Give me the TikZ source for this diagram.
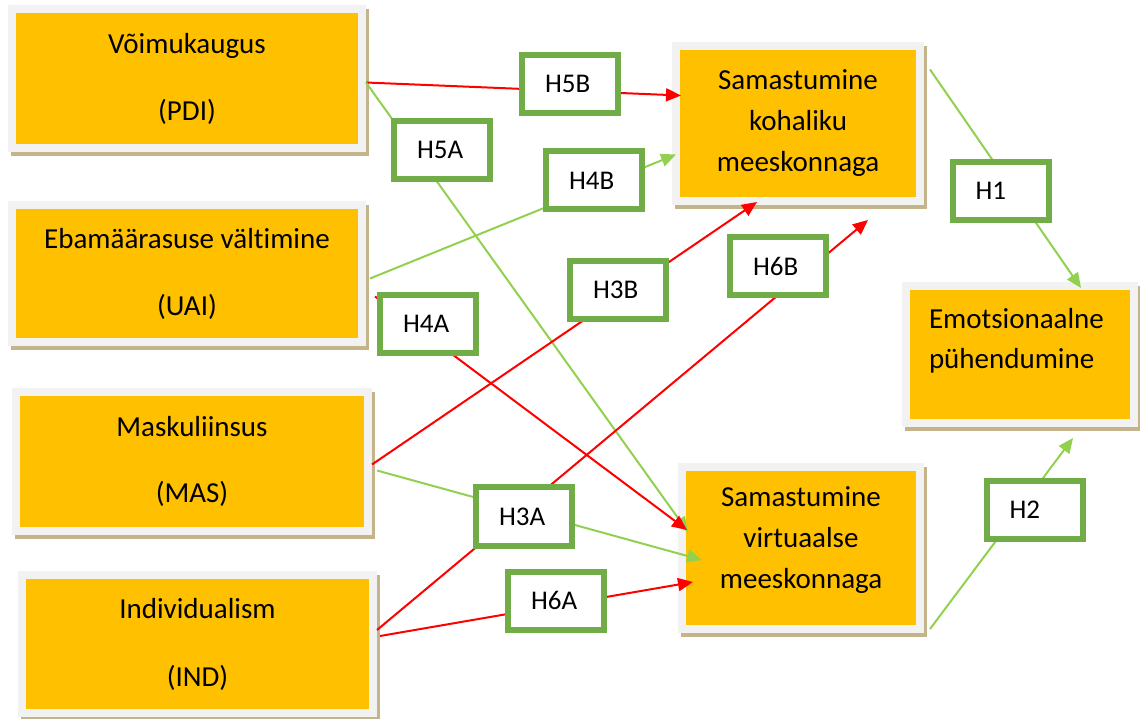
\documentclass[tikz,border=0pt]{standalone}
\usepackage{fontspec}
\setmainfont{Carlito}[Ligatures=NoCommon]
\usetikzlibrary{arrows.meta,shadows}

\definecolor{boxorange}{HTML}{FFC000}
\definecolor{framegray}{HTML}{F2F2F2}
\definecolor{shadowtan}{HTML}{C4B48C}
\definecolor{labelgreen}{HTML}{70AD47}
\definecolor{linegreen}{HTML}{92D050}
\definecolor{linered}{HTML}{FF0000}

\tikzset{
  factor/.style={draw=framegray, line width=8pt, fill=boxorange, align=center,
    font=\fontsize{29}{40}\selectfont,
    general shadow={draw=shadowtan, fill=shadowtan, shadow xshift=3pt, shadow yshift=-4pt}},
  hyp/.style={draw=labelgreen, line width=6pt, fill=white, text width=50pt, align=left,
    inner xsep=23pt, minimum height=58pt, font=\fontsize{27}{32}\selectfont},
  redarrow/.style={draw=linered, line width=2pt, -{Triangle[length=15pt,width=13pt]}},
  greenarrow/.style={draw=linegreen, line width=2pt, -{Triangle[length=15pt,width=13pt]}}
}

\begin{document}
\begin{tikzpicture}[x=1pt,y=1pt]
				\useasboundingbox (0,0) rectangle (1140,718);
				
				% Cultural dimensions (left)
				\node[factor, minimum width=350pt, minimum height=139pt] (pdi) at (187,639.5) {Võimukaugus\\[27pt](PDI)};
				\node[factor, minimum width=350pt, minimum height=137pt] (uai) at (187,444.5) {Ebamäärasuse vältimine\\[27pt](UAI)};
				\node[factor, minimum width=352pt, minimum height=139pt] (mas) at (192,256.5) {Maskuliinsus\\[26pt](MAS)};
				\node[factor, minimum width=351pt, minimum height=138pt] (ind) at (197.5,74) {Individualism\\[28pt](IND)};
				
				% Identification and commitment (right)
				\node[factor, minimum width=244pt, minimum height=155pt, font=\fontsize{29}{41}\selectfont] (kohalik) at (798,594.5) {Samastumine\\kohaliku\\meeskonnaga};
				\node[factor, minimum width=238pt, minimum height=162pt, font=\fontsize{29}{41}\selectfont] (virt) at (801,170) {Samastumine\\virtuaalse\\meeskonnaga\\[-33pt]\strut};
				\node[factor, align=left, text width=182pt, inner xsep=23pt, minimum height=137pt] (emot) at (1020,363.5) {Emotsionaalne\\pühendumine\\[-20pt]\strut};
				
				\coordinate (h6btip) at (868,498); % H6B ends short of the box
				
				% Arrows
				\draw[redarrow] ([yshift=-4pt]pdi.east) -- ([xshift=9pt,yshift=28pt]kohalik.west);
				\draw[greenarrow] ([yshift=-4pt]pdi.east) -- ([xshift=10pt,yshift=16pt]virt.west);
				\draw[greenarrow] ([xshift=4pt,yshift=-5pt]uai.east) -- ([xshift=4pt,yshift=-31pt]kohalik.west);
				\draw[redarrow] ([xshift=9pt,yshift=-23pt]uai.east) -- ([xshift=9pt,yshift=18pt]virt.west);
				\draw[redarrow] ([yshift=-3pt]mas.east) -- ([xshift=-41pt,yshift=3pt]kohalik.south);
				\draw[greenarrow] ([xshift=5pt,yshift=-9pt]mas.east) -- ([xshift=24pt,yshift=-12pt]virt.west);
				\draw[redarrow] ([yshift=14pt]ind.east) -- (h6btip);
				\draw[redarrow] ([xshift=3pt,yshift=8pt]ind.east) -- ([xshift=15pt,yshift=-34pt]virt.west);
				\draw[greenarrow] ([xshift=6pt,yshift=54pt]kohalik.east) -- ([xshift=61pt,yshift=-6pt]emot.north);
				\draw[greenarrow] ([xshift=6pt,yshift=4pt]virt.south east) -- ([xshift=53pt,yshift=-11pt]emot.south);
				
				% Hypotheses
				\node[hyp] (h5b) at (570,634) {H5B};
				\node[hyp] (h5a) at (442,568) {H5A};
				\node[hyp] (h4b) at (594,537.5) {H4B};
				\node[hyp] (h3b) at (618,428) {H3B};
				\node[hyp] (h4a) at (428,394) {H4A};
				\node[hyp] (h6b) at (778,451.5) {H6B};
				\node[hyp] (h1) at (1000.5,527) {H1};
				\node[hyp] (h3a) at (524,201.5) {H3A};
				\node[hyp] (h6a) at (556,117.5) {H6A};
				\node[hyp] (h2) at (1034.5,208) {H2};
			\end{tikzpicture}
\end{document}
